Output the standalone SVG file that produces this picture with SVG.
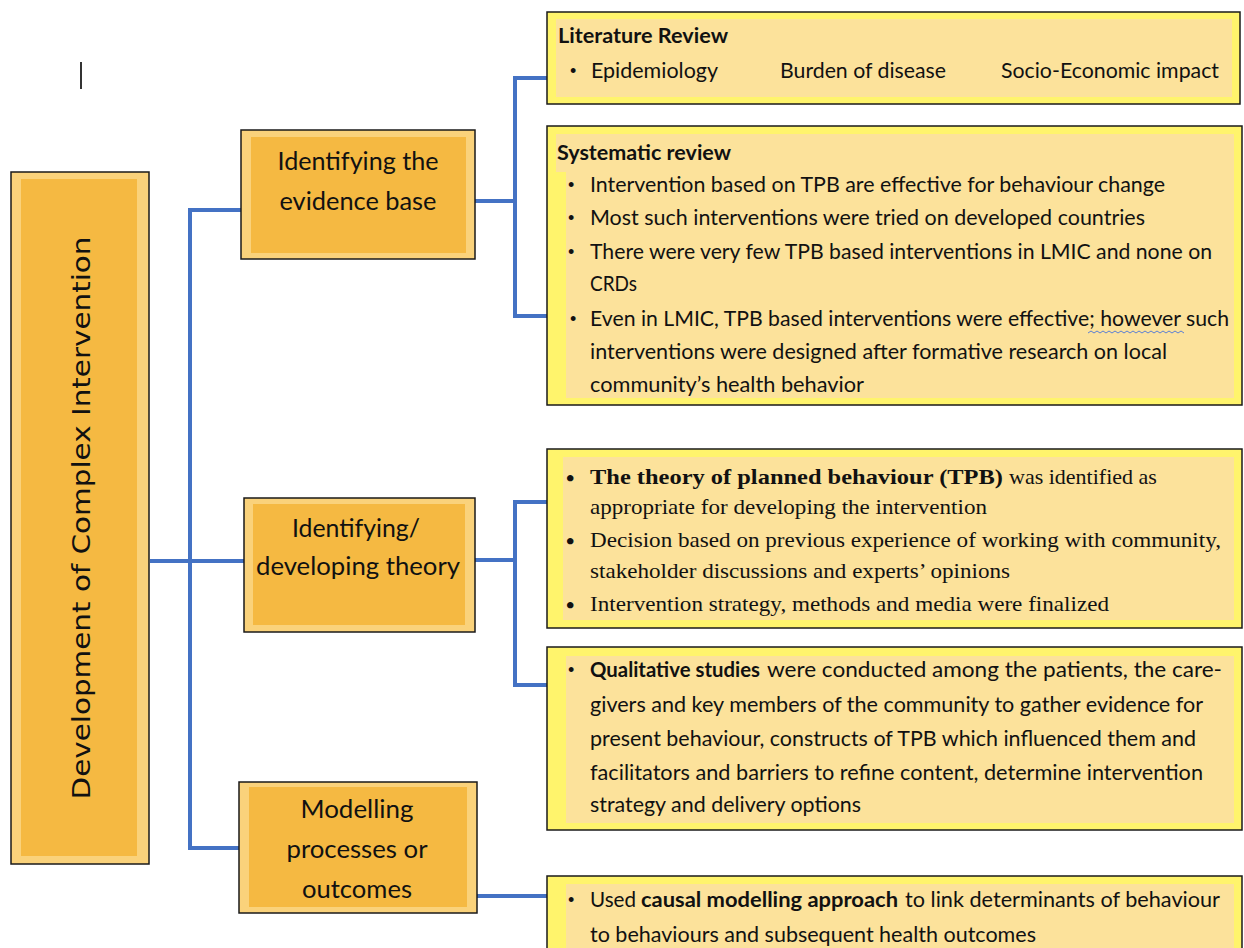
<svg xmlns="http://www.w3.org/2000/svg" width="1244" height="948" viewBox="0 0 1244 948">
  <style>
    .node-outer { fill: #FAD27B; stroke: #1a1a1a; stroke-width: 1.5; }
    .node-inner { fill: #F5B942; }
    .note-outer { fill: #FFF46C; stroke: #1a1a1a; stroke-width: 1.5; }
    .note-inner { fill: #FCE29B; }
    .label { font-family: Lato, "Liberation Sans", sans-serif; font-size: 25px; fill: #111; text-anchor: middle; }
    .title { font-family: "DejaVu Sans", Verdana, sans-serif; font-size: 25px; fill: #111; text-anchor: middle; }
    .sans { font-family: Lato, "Liberation Sans", sans-serif; font-size: 21.5px; fill: #111; }
    .serif { font-family: "Liberation Serif", "Times New Roman", serif; font-size: 22px; fill: #111; }
    .b { font-weight: bold; }
    .dot { font-family: "Liberation Sans", sans-serif; font-size: 18px; fill: #111; }
    .dot-serif { font-family: "Liberation Serif", serif; font-size: 24px; font-weight: bold; fill: #111; }
    .conn { fill: none; stroke: #4472C4; stroke-width: 4; stroke-linejoin: miter; stroke-linecap: butt; }
  </style>

  <rect width="1244" height="948" fill="#ffffff"/>

  <!-- text cursor mark -->
  <line x1="81" y1="62" x2="81" y2="89" stroke="#333" stroke-width="2"/>

  <!-- connectors -->
  <g id="connectors">
    <path class="conn" d="M150,561 H245"/>
    <path class="conn" d="M241,210 H190 V848 H239"/>
    <path class="conn" d="M475,201 H515"/>
    <path class="conn" d="M552,78 H515 V316 H552"/>
    <path class="conn" d="M475,560 H515"/>
    <path class="conn" d="M550,502 H515 V685 H550"/>
    <path class="conn" d="M477,896 H550"/>
  </g>

  <!-- root -->
  <g id="root">
    <rect class="node-outer" x="11" y="172" width="138" height="692"/>
    <rect class="node-inner" x="21" y="179" width="116" height="677"/>
    <text class="title" transform="translate(90,518) rotate(-90)" x="0" y="0" textLength="563" lengthAdjust="spacingAndGlyphs">Development of Complex Intervention</text>
  </g>

  <!-- stage: evidence base -->
  <g id="evidence">
    <rect class="node-outer" x="241" y="130" width="234" height="129"/>
    <rect class="node-inner" x="251" y="137" width="215" height="116"/>
    <text class="label" x="358" y="170" textLength="161" lengthAdjust="spacingAndGlyphs">Identifying the</text>
    <text class="label" x="358" y="210" textLength="157" lengthAdjust="spacingAndGlyphs">evidence base</text>
  </g>

  <!-- stage: theory -->
  <g id="theory">
    <rect class="node-outer" x="244" y="498" width="231" height="134"/>
    <rect class="node-inner" x="253" y="504" width="212" height="121"/>
    <text class="label" x="356" y="537" textLength="128" lengthAdjust="spacingAndGlyphs">Identifying/</text>
    <text class="label" x="358" y="575" textLength="204" lengthAdjust="spacingAndGlyphs">developing theory</text>
  </g>

  <!-- stage: modelling -->
  <g id="modelling">
    <rect class="node-outer" x="239" y="782" width="238" height="131"/>
    <rect class="node-inner" x="249" y="787" width="218" height="120"/>
    <text class="label" x="357" y="818" textLength="113" lengthAdjust="spacingAndGlyphs">Modelling</text>
    <text class="label" x="357" y="858" textLength="141" lengthAdjust="spacingAndGlyphs">processes or</text>
    <text class="label" x="357" y="898" textLength="110" lengthAdjust="spacingAndGlyphs">outcomes</text>
  </g>

  <!-- literature review -->
  <g id="literature">
    <rect class="note-outer" x="547" y="12" width="693" height="92"/>
    <rect class="note-inner" x="556" y="19" width="676" height="78"/>
    <text class="sans b" x="558" y="43" textLength="170" lengthAdjust="spacingAndGlyphs">Literature Review</text>
    <text class="dot" x="570" y="77">•</text>
    <text class="sans" x="591" y="78" textLength="127" lengthAdjust="spacingAndGlyphs">Epidemiology</text>
    <text class="sans" x="780" y="78" textLength="166" lengthAdjust="spacingAndGlyphs">Burden of disease</text>
    <text class="sans" x="1001" y="78" textLength="218" lengthAdjust="spacingAndGlyphs">Socio-Economic impact</text>
  </g>

  <!-- systematic review -->
  <g id="systematic">
    <rect class="note-outer" x="547" y="126" width="695" height="279"/>
    <rect class="note-inner" x="556" y="134" width="678" height="38"/>
    <rect class="note-inner" x="566" y="170" width="668" height="228"/>
    <text class="sans b" x="557" y="160" textLength="174" lengthAdjust="spacingAndGlyphs">Systematic review</text>
    <text class="dot" x="568" y="191">•</text>
    <text class="sans" x="590" y="192" textLength="575" lengthAdjust="spacingAndGlyphs">Intervention based on TPB are effective for behaviour change</text>
    <text class="dot" x="568" y="224">•</text>
    <text class="sans" x="590" y="225" textLength="555" lengthAdjust="spacingAndGlyphs">Most such interventions were tried on developed countries</text>
    <text class="dot" x="568" y="258">•</text>
    <text class="sans" x="590" y="259" textLength="622" lengthAdjust="spacingAndGlyphs">There were very few TPB based interventions in LMIC and none on</text>
    <text class="sans" x="590" y="291" textLength="47" lengthAdjust="spacingAndGlyphs">CRDs</text>
    <text class="dot" x="570" y="325" font-size="13">•</text>
    <text class="sans" x="590" y="326" textLength="639" lengthAdjust="spacingAndGlyphs">Even in LMIC, TPB based interventions were effective; however such</text>
    <path d="M1088,333 l3,-2 l3,2 l3,-2 l3,2 l3,-2 l3,2 l3,-2 l3,2 l3,-2 l3,2 l3,-2 l3,2 l3,-2 l3,2 l3,-2 l3,2 l3,-2 l3,2 l3,-2 l3,2 l3,-2 l3,2 l3,-2 l3,2 l3,-2 l3,2 l3,-2 l3,2 l3,-2 l3,2 l3,-2 l3,2" fill="none" stroke="#5B7FD4" stroke-width="1"/>
    <text class="sans" x="590" y="359" textLength="577" lengthAdjust="spacingAndGlyphs">interventions were designed after formative research on local</text>
    <text class="sans" x="590" y="392" textLength="274" lengthAdjust="spacingAndGlyphs">community’s health behavior</text>
  </g>

  <!-- theory of planned behaviour -->
  <g id="tpb">
    <rect class="note-outer" x="547" y="449" width="695" height="179"/>
    <rect class="note-inner" x="563" y="457" width="671" height="163"/>
    <text class="dot-serif" x="566" y="486">•</text>
    <text class="serif" y="484"><tspan class="b" x="590" textLength="413" lengthAdjust="spacingAndGlyphs">The theory of planned behaviour (TPB)</tspan><tspan x="1009">was identified as</tspan></text>
    <text class="serif" x="590" y="514" textLength="397" lengthAdjust="spacingAndGlyphs">appropriate for developing the intervention</text>
    <text class="dot-serif" x="566" y="549">•</text>
    <text class="serif" x="590" y="547" textLength="631" lengthAdjust="spacingAndGlyphs">Decision based on previous experience of working with community,</text>
    <text class="serif" x="590" y="578" textLength="420" lengthAdjust="spacingAndGlyphs">stakeholder discussions and experts’ opinions</text>
    <text class="dot-serif" x="566" y="613">•</text>
    <text class="serif" x="590" y="611" textLength="519" lengthAdjust="spacingAndGlyphs">Intervention strategy, methods and media were finalized</text>
  </g>

  <!-- qualitative studies -->
  <g id="qualitative">
    <rect class="note-outer" x="547" y="647" width="695" height="183"/>
    <rect class="note-inner" x="566" y="656" width="668" height="167"/>
    <text class="dot" x="568" y="676">•</text>
    <text class="sans" y="677"><tspan class="b" x="590" textLength="170" lengthAdjust="spacingAndGlyphs">Qualitative studies</tspan><tspan x="767" textLength="455" lengthAdjust="spacingAndGlyphs">were conducted among the patients, the care-</tspan></text>
    <text class="sans" x="590" y="712" textLength="613" lengthAdjust="spacingAndGlyphs">givers and key members of the community to gather evidence for</text>
    <text class="sans" x="590" y="746" textLength="606" lengthAdjust="spacingAndGlyphs">present behaviour, constructs of TPB which influenced them and</text>
    <text class="sans" x="590" y="780" textLength="613" lengthAdjust="spacingAndGlyphs">facilitators and barriers to refine content, determine intervention</text>
    <text class="sans" x="590" y="812" textLength="271" lengthAdjust="spacingAndGlyphs">strategy and delivery options</text>
  </g>

  <!-- causal modelling -->
  <g id="causal">
    <rect class="note-outer" x="547" y="876" width="695" height="90"/>
    <rect class="note-inner" x="566" y="884" width="668" height="70"/>
    <text class="dot" x="568" y="906">•</text>
    <text class="sans" y="907"><tspan x="590" textLength="46" lengthAdjust="spacingAndGlyphs">Used</tspan><tspan class="b" x="641" textLength="257" lengthAdjust="spacingAndGlyphs">causal modelling approach</tspan><tspan x="905" textLength="315" lengthAdjust="spacingAndGlyphs">to link determinants of behaviour</tspan></text>
    <text class="sans" x="590" y="942" textLength="446" lengthAdjust="spacingAndGlyphs">to behaviours and subsequent health outcomes</text>
  </g>
</svg>
